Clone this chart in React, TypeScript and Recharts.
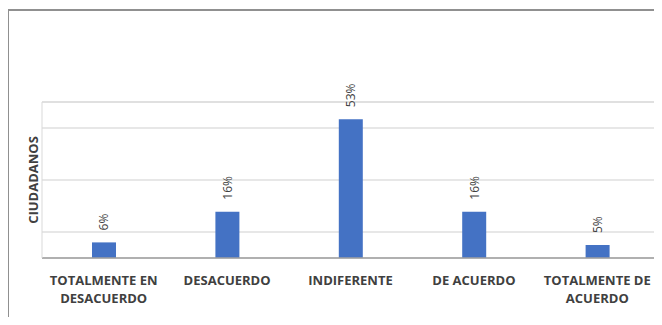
import React from 'react';
import { BarChart, Bar, XAxis, YAxis, CartesianGrid, LabelList } from 'recharts';

const categories = ['TOTALMENTE EN DESACUERDO', 'DESACUERDO', 'INDIFERENTE', 'DE ACUERDO', 'TOTALMENTE DE ACUERDO'];
const categoryLines = [['TOTALMENTE EN', 'DESACUERDO'], ['DESACUERDO'], ['INDIFERENTE'], ['DE ACUERDO'], ['TOTALMENTE DE', 'ACUERDO']];
const values = [6, 17.8, 53.4, 17.8, 5];
const valueLabels = ['6%', '16%', '53%', '16%', '5%'];
const yTicksMajor = [10, 30, 50];
const yTicksMinor = [0, 20, 40, 60];

const data = categories.map((c, i) => ({ name: c, value: values[i], label: valueLabels[i] }));

const FONT = '"Open Sans", sans-serif';

const CatTick = (props: any) => {
  const { x, y, payload } = props;
  const i = categories.indexOf(payload.value);
  const lines = categoryLines[i] || [payload.value];
  return (
    <g>
      {lines.map((l: string, k: number) => (
        <text key={k} x={x} y={y} dy={27 + k * 18} textAnchor="middle" fontFamily={FONT} fontWeight={700} fontSize={13} fill="#404040">
          {l}
        </text>
      ))}
    </g>
  );
};

const NoTick = () => <g />;

const ValLabel = (props: any) => {
  const { x, y, width, index } = props;
  const cx = x + width / 2;
  const ty = y - 12;
  return (
    <text x={cx} y={ty} transform={`rotate(-90 ${cx} ${ty})`} textAnchor="start" dominantBaseline="central" fontFamily={FONT} fontSize={12} fill="#404040">
      {valueLabels[index]}
    </text>
  );
};

export default function App() {
  return (
    <div style={{ position: 'relative', width: 662, height: 325, margin: -8, overflow: 'hidden', background: '#fff' }}>
      <svg width={662} height={325} style={{ position: 'absolute', left: 0, top: 0 }}>
        <path d="M 8 318 L 8 10 L 662 10 M 7 318 L 662 318" stroke="#909090" strokeWidth={2} fill="none" />
      </svg>
      <div style={{ position: 'absolute', left: 0, top: 0 }}>
        <BarChart width={662} height={325} data={data} margin={{ top: 102, right: 2, left: 41, bottom: 17 }} barCategoryGap={0}>
          <CartesianGrid yAxisId="minor" vertical={false} horizontal={true} stroke="#e2e2e2" />
          <CartesianGrid yAxisId="major" vertical={false} horizontal={true} stroke="#cfcfcf" />
          <XAxis dataKey="name" height={50} tickLine={false} tickSize={0} tickMargin={0} axisLine={{ stroke: '#a0a0a0', strokeWidth: 1.5 }} tick={<CatTick />} interval={0} />
          <YAxis yAxisId="major" domain={[0, 60]} ticks={yTicksMajor} interval={0} width={1} tick={<NoTick />} tickLine={false} axisLine={{ stroke: '#d9d9d9' }}
            label={{ value: 'CIUDADANOS', angle: -90, position: 'left', offset: 8, style: { fontFamily: FONT, fontWeight: 700, fontSize: 13, fill: '#404040', textAnchor: 'middle' } }} />
          <YAxis yAxisId="minor" orientation="right" domain={[0, 60]} ticks={yTicksMinor} interval={0} width={1} tick={<NoTick />} tickLine={false} axisLine={{ stroke: '#d9d9d9' }} />
          <Bar yAxisId="major" dataKey="value" fill="#4472C4" barSize={24} isAnimationActive={false}>
            <LabelList dataKey="label" content={<ValLabel />} />
          </Bar>
        </BarChart>
      </div>
    </div>
  );
}
